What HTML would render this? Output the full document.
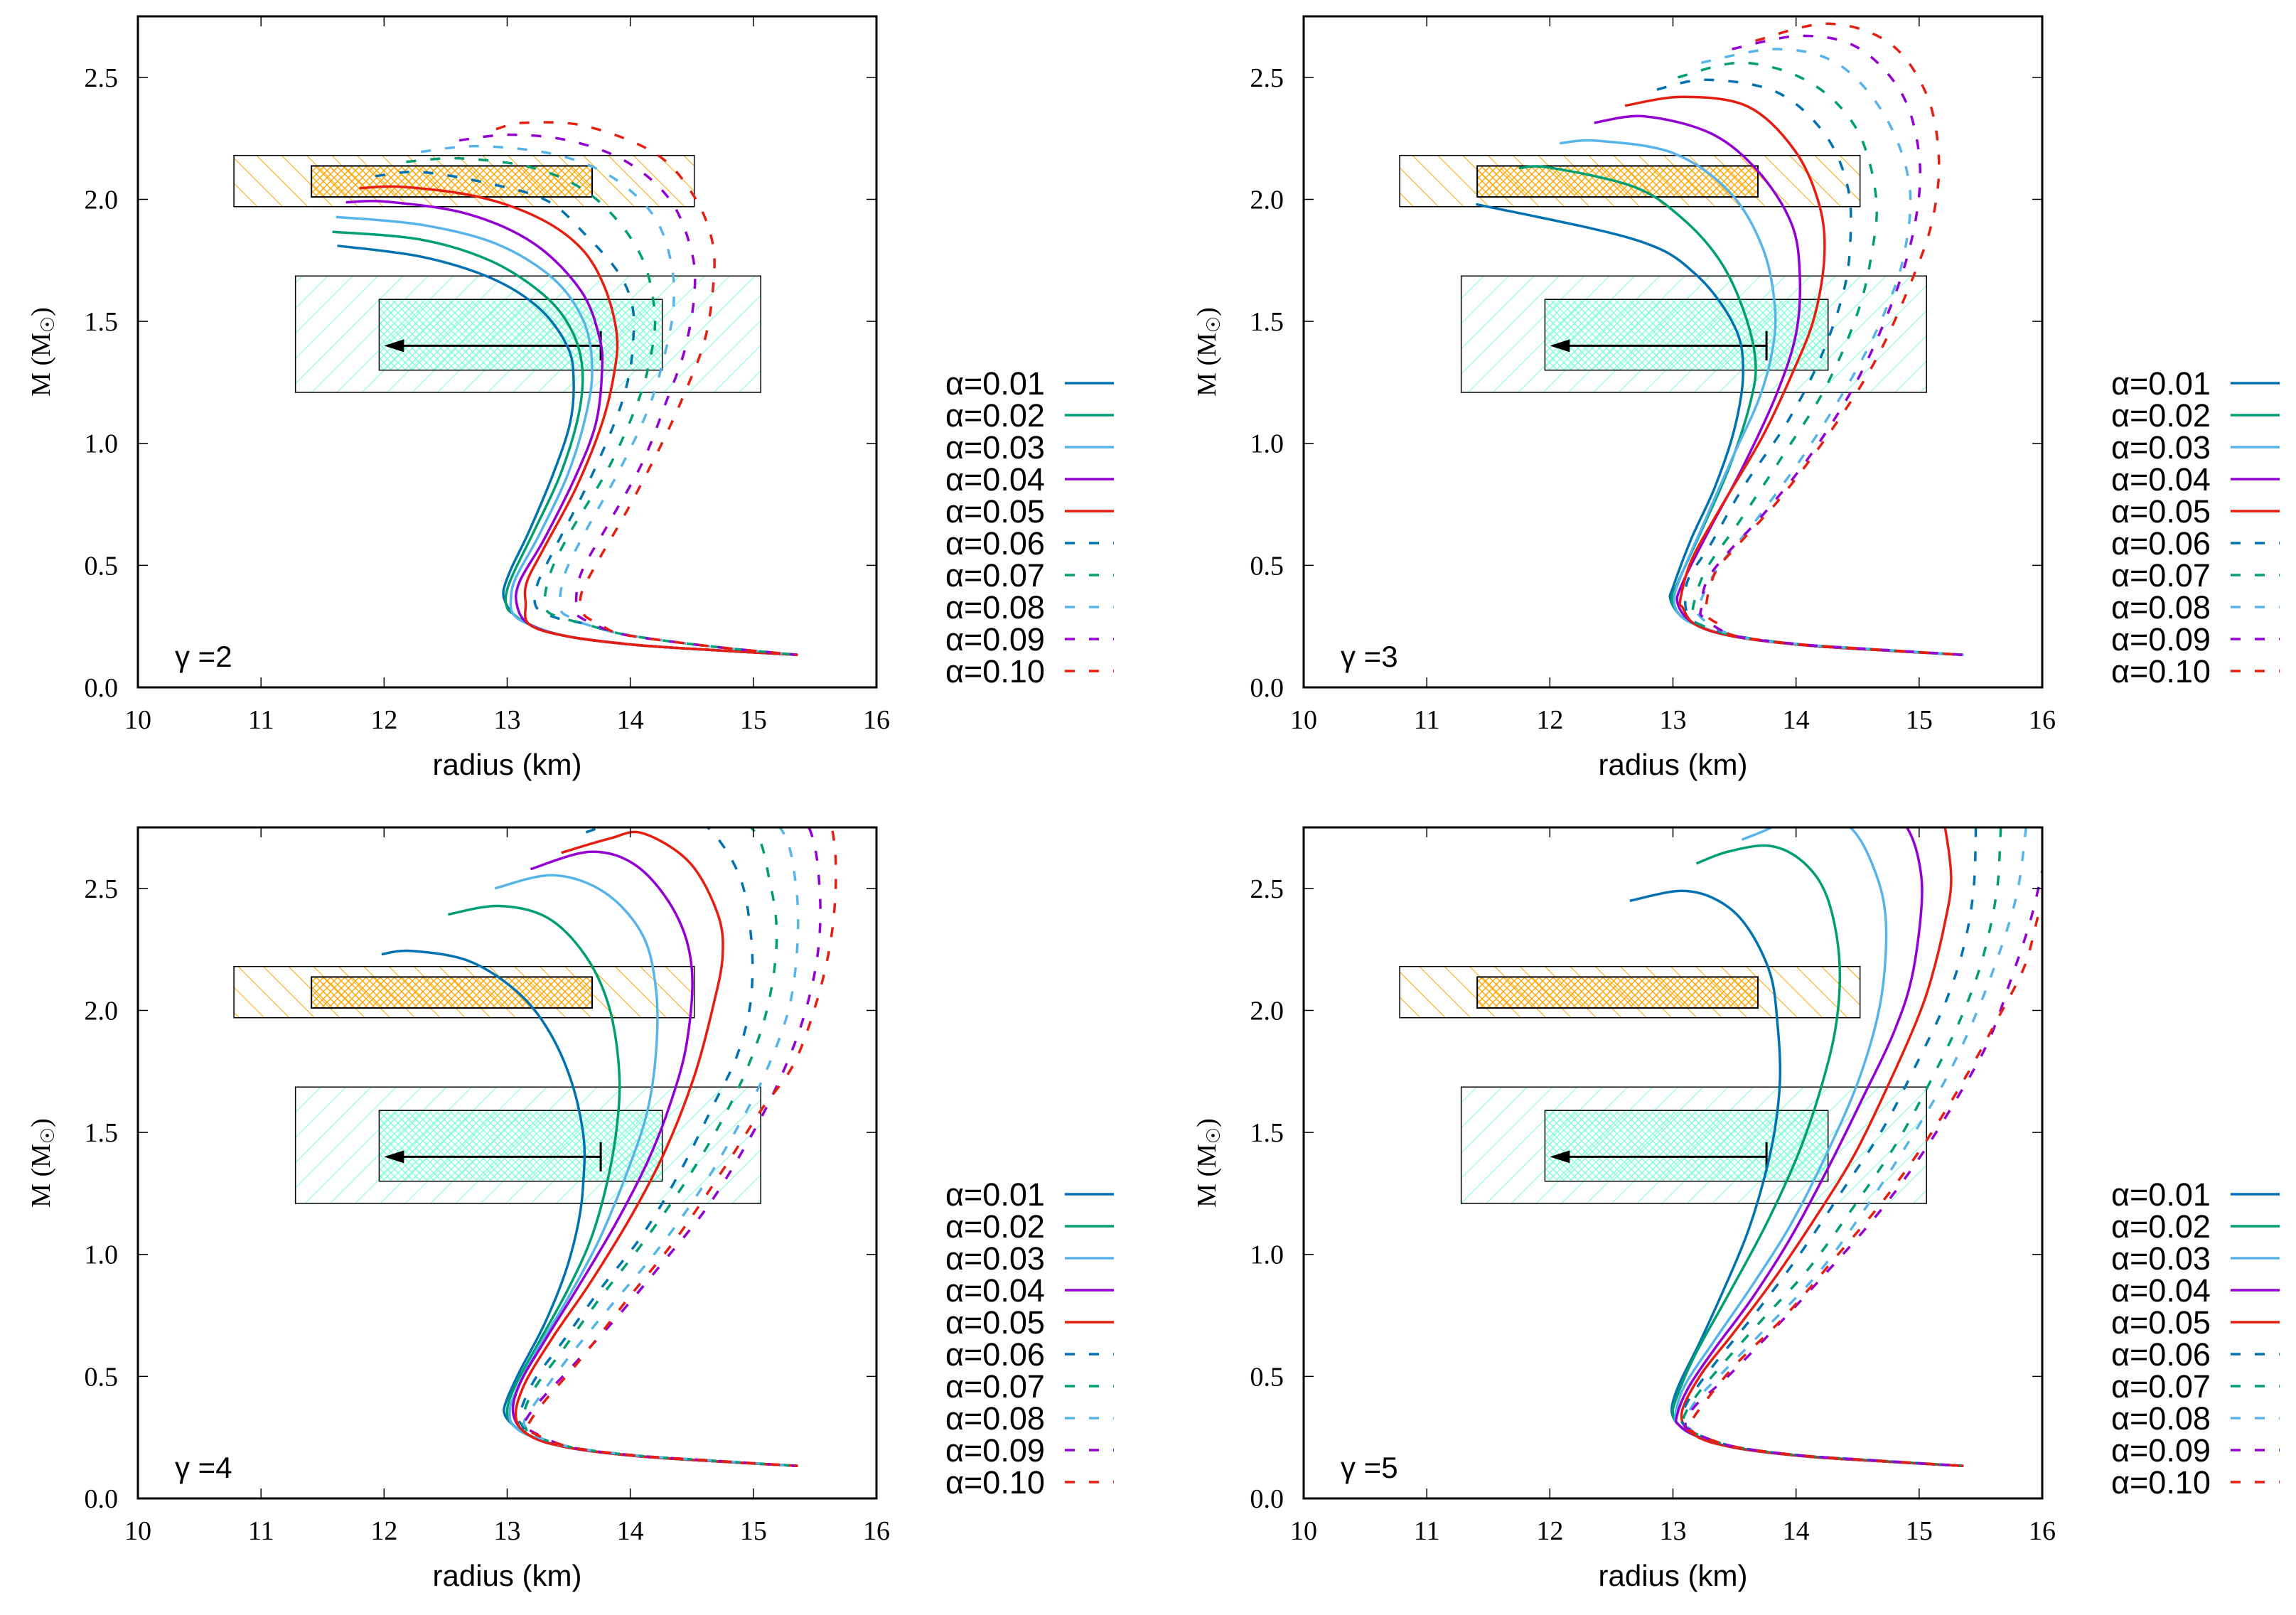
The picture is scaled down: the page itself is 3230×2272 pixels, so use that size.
<!DOCTYPE html>
<html><head><meta charset="utf-8"><style>
html,body{margin:0;padding:0;background:#fff;}
svg{display:block;}
.tk{font-family:"Liberation Serif",serif;font-size:38px;fill:#000;}
.sn{font-family:"Liberation Sans",sans-serif;fill:#000;}
</style></head><body>
<svg id="fig" width="3230" height="2272" viewBox="0 0 3230 2272" xmlns="http://www.w3.org/2000/svg">
<defs>
<pattern id="hatchO" patternUnits="userSpaceOnUse" width="25" height="25" patternTransform="rotate(-45)"><line x1="0" y1="0" x2="0" y2="25" stroke="#ffa500" stroke-width="2"/></pattern>
<pattern id="crossO" patternUnits="userSpaceOnUse" width="10" height="10"><path d="M0,0L10,10M10,0L0,10" stroke="#ffa500" stroke-width="1.4"/></pattern>
<pattern id="hatchG" patternUnits="userSpaceOnUse" width="25" height="25" patternTransform="rotate(45)"><line x1="0" y1="0" x2="0" y2="25" stroke="#7fffd4" stroke-width="2"/></pattern>
<pattern id="crossG" patternUnits="userSpaceOnUse" width="10" height="10"><path d="M0,0L10,10M10,0L0,10" stroke="#7fffd4" stroke-width="1.4"/></pattern>
</defs>
</svg>
<script>
const gammaLabels = [2, 3, 4, 5];
const alphaLabels = ["0.01","0.02","0.03","0.04","0.05","0.06","0.07","0.08","0.09","0.10"];
const xTicks = [10, 11, 12, 13, 14, 15, 16];
const yTicks = [0.0, 0.5, 1.0, 1.5, 2.0, 2.5];
const colors = ["#0072b2","#009e73","#56b4e9","#9400d3","#e51e10","#0072b2","#009e73","#56b4e9","#9400d3","#e51e10"];
const orangeOuter = [10.78, 14.52, 1.97, 2.18];
const orangeInner = [11.41, 13.69, 2.01, 2.137];
const greenOuter = [11.28, 15.06, 1.209, 1.686];
const greenInner = [11.96, 14.26, 1.30, 1.59];
const arrowData = [13.76, 12.0, 1.40, 1.34, 1.46];
const tailSolid = [[13.05,0.30],[13.18,0.258],[13.48,0.21],[14.02,0.175],[14.6,0.155],[15.36,0.133]];
const tailDashed2 = [[13.62,0.262],[13.9,0.222],[14.3,0.19],[14.8,0.16],[15.36,0.133]];
const tailDashed = [[13.2,0.262],[13.5,0.212],[14.02,0.177],[14.6,0.157],[15.36,0.133]];

const gamma2 = [
[[11.62,1.81],[12.30,1.765],[12.87,1.677],[13.26,1.554],[13.49,1.396],[13.54,1.256],[13.51,1.081],[13.37,0.87],[13.18,0.642],[13.03,0.484],[12.97,0.396],[12.99,0.344]],
[[11.58,1.867],[12.30,1.835],[12.87,1.747],[13.3,1.607],[13.52,1.467],[13.61,1.309],[13.58,1.116],[13.43,0.87],[13.22,0.642],[13.05,0.467],[12.99,0.379],[13.0,0.326]],
[[11.61,1.928],[12.3,1.896],[12.91,1.818],[13.37,1.677],[13.62,1.502],[13.69,1.309],[13.64,1.116],[13.49,0.87],[13.26,0.625],[13.07,0.449],[13.03,0.361]],
[[11.69,1.988],[12.03,1.99],[12.68,1.94],[13.22,1.818],[13.6,1.625],[13.75,1.432],[13.77,1.291],[13.72,1.081],[13.56,0.87],[13.3,0.607],[13.1,0.432],[13.08,0.335]],
[[11.8,2.046],[12.15,2.051],[12.76,2.011],[13.26,1.923],[13.6,1.8],[13.79,1.642],[13.89,1.449],[13.87,1.291],[13.77,1.081],[13.56,0.818],[13.3,0.572],[13.16,0.432],[13.15,0.344]],
[[11.93,2.095],[12.3,2.112],[12.87,2.063],[13.33,1.993],[13.64,1.853],[13.91,1.695],[14.02,1.554],[14.02,1.396],[13.98,1.256],[13.87,1.081],[13.64,0.818],[13.37,0.554],[13.24,0.414],[13.24,0.326],[13.4,0.285]],
[[12.18,2.154],[12.61,2.168],[13.18,2.133],[13.6,2.046],[13.91,1.905],[14.12,1.73],[14.2,1.519],[14.16,1.344],[14.06,1.168],[13.83,0.905],[13.52,0.642],[13.35,0.467],[13.31,0.326],[13.45,0.285]],
[[12.3,2.195],[12.76,2.218],[13.37,2.186],[13.83,2.098],[14.18,1.94],[14.33,1.747],[14.35,1.554],[14.27,1.344],[14.14,1.133],[13.91,0.888],[13.64,0.642],[13.47,0.467],[13.43,0.326],[13.52,0.285]],
[[12.61,2.242],[13.03,2.265],[13.52,2.239],[13.98,2.151],[14.33,1.993],[14.5,1.782],[14.52,1.607],[14.44,1.379],[14.29,1.168],[14.1,0.923],[13.83,0.677],[13.6,0.467],[13.56,0.326],[13.6,0.285]],
[[12.91,2.288],[13.14,2.314],[13.64,2.3],[14.21,2.186],[14.52,2.011],[14.67,1.818],[14.67,1.625],[14.6,1.414],[14.44,1.204],[14.25,0.993],[13.98,0.73],[13.72,0.502],[13.6,0.379],[13.62,0.3],[13.75,0.26]]
];
const gamma3 = [
[[11.40,1.98],[12.69,1.835],[13.18,1.695],[13.5,1.48],[13.57,1.29],[13.50,1.06],[13.34,0.82],[13.15,0.61],[13.0,0.41],[12.98,0.36]],
[[11.75,2.128],[12.0,2.13],[12.69,2.05],[13.08,1.92],[13.38,1.75],[13.57,1.55],[13.67,1.34],[13.63,1.17],[13.46,0.905],[13.23,0.64],[13.04,0.43],[12.99,0.36]],
[[12.08,2.23],[12.39,2.24],[13.0,2.19],[13.46,2.03],[13.73,1.8],[13.83,1.55],[13.8,1.36],[13.69,1.17],[13.5,0.96],[13.27,0.695],[13.06,0.45],[13.01,0.36]],
[[12.36,2.314],[12.77,2.34],[13.31,2.27],[13.69,2.116],[13.96,1.905],[14.03,1.695],[14.0,1.45],[13.84,1.2],[13.57,0.905],[13.31,0.66],[13.08,0.43],[13.04,0.34]],
[[12.61,2.384],[13.08,2.42],[13.61,2.38],[13.99,2.2],[14.19,1.975],[14.23,1.765],[14.15,1.52],[13.99,1.31],[13.73,1.03],[13.38,0.73],[13.15,0.52],[13.06,0.36],[13.08,0.326]],
[[12.87,2.45],[13.27,2.49],[13.84,2.44],[14.23,2.27],[14.42,2.05],[14.44,1.82],[14.38,1.61],[14.19,1.34],[13.92,1.08],[13.57,0.82],[13.31,0.59],[13.13,0.45],[13.1,0.36],[13.12,0.3]],
[[13.04,2.5],[13.57,2.56],[14.11,2.48],[14.49,2.29],[14.65,2.01],[14.61,1.765],[14.49,1.52],[14.23,1.22],[13.88,0.94],[13.54,0.68],[13.27,0.484],[13.17,0.344],[13.17,0.29]],
[[13.23,2.56],[13.84,2.616],[14.34,2.555],[14.72,2.344],[14.92,2.063],[14.88,1.78],[14.72,1.537],[14.46,1.274],[14.07,0.958],[13.69,0.695],[13.38,0.5],[13.23,0.36],[13.22,0.29]],
[[13.48,2.616],[14.03,2.67],[14.49,2.625],[14.84,2.45],[14.99,2.22],[14.99,1.975],[14.84,1.66],[14.53,1.29],[14.15,0.975],[13.77,0.73],[13.42,0.537],[13.27,0.43],[13.23,0.326],[13.25,0.285]],
[[13.67,2.65],[14.26,2.72],[14.76,2.64],[15.06,2.43],[15.16,2.17],[15.11,1.92],[14.95,1.68],[14.65,1.344],[14.3,1.063],[13.88,0.78],[13.54,0.59],[13.34,0.467],[13.27,0.31],[13.38,0.256]]
];
const gamma4 = [
[[11.98,2.23],[12.22,2.244],[12.68,2.204],[13.07,2.081],[13.33,1.923],[13.52,1.712],[13.62,1.484],[13.62,1.309],[13.58,1.133],[13.47,0.923],[13.3,0.712],[13.1,0.519],[12.99,0.396],[12.98,0.344]],
[[12.52,2.393],[12.93,2.428],[13.33,2.379],[13.64,2.221],[13.83,2.011],[13.91,1.747],[13.89,1.519],[13.81,1.291],[13.68,1.063],[13.49,0.853],[13.26,0.642],[13.07,0.467],[13.0,0.361]],
[[12.9,2.5],[13.37,2.554],[13.79,2.484],[14.1,2.309],[14.21,2.081],[14.21,1.835],[14.14,1.589],[13.98,1.344],[13.75,1.063],[13.49,0.818],[13.22,0.589],[13.05,0.414],[13.02,0.344]],
[[13.19,2.579],[13.68,2.65],[14.06,2.589],[14.37,2.396],[14.5,2.168],[14.46,1.87],[14.33,1.625],[14.14,1.379],[13.87,1.116],[13.56,0.853],[13.3,0.642],[13.1,0.467],[13.05,0.344]],
[[13.44,2.646],[13.83,2.704],[14.1,2.726],[14.48,2.607],[14.71,2.396],[14.75,2.221],[14.67,2.011],[14.52,1.73],[14.29,1.432],[14.02,1.168],[13.68,0.888],[13.37,0.66],[13.14,0.467],[13.07,0.335]],
[[13.64,2.73],[14.1,2.8],[14.55,2.78],[14.87,2.572],[14.98,2.309],[14.98,2.046],[14.87,1.818],[14.67,1.607],[14.41,1.344],[14.1,1.081],[13.75,0.853],[13.45,0.642],[13.22,0.484],[13.1,0.344],[13.12,0.3]],
[[14.6,2.85],[15.0,2.739],[15.13,2.537],[15.19,2.309],[15.13,2.046],[14.98,1.8],[14.75,1.554],[14.44,1.291],[14.1,1.046],[13.75,0.818],[13.45,0.607],[13.22,0.449],[13.12,0.326],[13.15,0.29]],
[[14.9,2.88],[15.23,2.739],[15.34,2.537],[15.36,2.291],[15.29,2.011],[15.1,1.747],[14.87,1.519],[14.56,1.256],[14.21,1.011],[13.83,0.782],[13.49,0.572],[13.26,0.414],[13.14,0.318],[13.17,0.285]],
[[15.2,2.9],[15.46,2.739],[15.54,2.484],[15.52,2.221],[15.4,1.958],[15.21,1.712],[14.98,1.484],[14.64,1.204],[14.25,0.958],[13.87,0.73],[13.52,0.537],[13.26,0.396],[13.14,0.309],[13.18,0.28]],
[[15.5,2.92],[15.64,2.739],[15.67,2.537],[15.63,2.291],[15.52,2.046],[15.33,1.782],[15.06,1.589],[14.75,1.344],[14.37,1.063],[13.98,0.818],[13.6,0.572],[13.3,0.396],[13.16,0.291],[13.2,0.27]]
];
const gamma5 = [
[[12.65,2.449],[13.07,2.49],[13.37,2.449],[13.6,2.344],[13.79,2.151],[13.85,1.94],[13.87,1.73],[13.83,1.519],[13.74,1.309],[13.6,1.081],[13.41,0.853],[13.22,0.642],[13.05,0.467],[12.99,0.361]],
[[13.19,2.602],[13.45,2.651],[13.79,2.674],[14.06,2.607],[14.25,2.467],[14.35,2.221],[14.33,1.958],[14.21,1.695],[14.02,1.414],[13.75,1.116],[13.45,0.835],[13.18,0.589],[13.03,0.414],[13.0,0.344]],
[[13.56,2.7],[13.77,2.742],[14.1,2.82],[14.44,2.75],[14.64,2.572],[14.73,2.361],[14.69,2.046],[14.52,1.73],[14.25,1.414],[13.95,1.116],[13.64,0.87],[13.33,0.642],[13.1,0.467],[13.02,0.344]],
[[14.7,2.85],[14.9,2.75],[15.0,2.607],[15.02,2.432],[14.94,2.133],[14.79,1.905],[14.56,1.66],[14.25,1.344],[13.95,1.063],[13.64,0.818],[13.33,0.607],[13.12,0.449],[13.03,0.335]],
[[15.15,2.85],[15.21,2.75],[15.26,2.537],[15.21,2.361],[15.1,2.133],[14.98,1.958],[14.75,1.695],[14.48,1.414],[14.18,1.168],[13.83,0.905],[13.49,0.677],[13.22,0.502],[13.07,0.344]],
[[15.45,2.85],[15.46,2.73],[15.44,2.484],[15.36,2.256],[15.21,2.028],[14.98,1.782],[14.71,1.519],[14.37,1.256],[14.02,0.993],[13.68,0.765],[13.37,0.572],[13.14,0.414],[13.07,0.326],[13.12,0.29]],
[[15.67,2.85],[15.66,2.712],[15.63,2.484],[15.52,2.221],[15.36,1.993],[15.13,1.747],[14.83,1.467],[14.48,1.204],[14.1,0.94],[13.72,0.73],[13.41,0.554],[13.18,0.414],[13.08,0.318],[13.14,0.285]],
[[15.88,2.85],[15.86,2.712],[15.79,2.467],[15.63,2.204],[15.44,1.958],[15.21,1.712],[14.9,1.449],[14.56,1.186],[14.18,0.923],[13.75,0.695],[13.41,0.519],[13.18,0.396],[13.1,0.309],[13.14,0.285]],
[[16.05,2.7],[16.0,2.572],[15.9,2.361],[15.75,2.133],[15.56,1.87],[15.29,1.625],[14.98,1.379],[14.64,1.151],[14.21,0.905],[13.79,0.677],[13.45,0.502],[13.18,0.379],[13.1,0.3],[13.15,0.28]],
[[16.08,2.3],[16.0,2.432],[15.86,2.186],[15.63,1.958],[15.36,1.712],[15.06,1.467],[14.71,1.221],[14.33,0.993],[13.91,0.747],[13.52,0.554],[13.26,0.396],[13.12,0.291],[13.16,0.275]]
];
const panelData = [gamma2, gamma3, gamma4, gamma5];
const dashedTails = [tailDashed2, tailDashed, tailDashed, tailDashed];

const NS = "http://www.w3.org/2000/svg";
const svg = document.getElementById('fig');
function mk(tag, attrs, parent) {
  const e = document.createElementNS(NS, tag);
  for (const k in attrs) e.setAttribute(k, attrs[k]);
  (parent || svg).appendChild(e);
  return e;
}
const PL = 194, PT = 23, PW = 1039, PH = 944;
const offsets = [[0,0],[1640,0],[0,1141],[1640,1141]];

function smoothPath(pts) {
  let d = "M" + pts[0][0].toFixed(1) + "," + pts[0][1].toFixed(1);
  for (let i = 0; i < pts.length - 1; i++) {
    const p0 = pts[Math.max(i-1,0)], p1 = pts[i], p2 = pts[i+1], p3 = pts[Math.min(i+2,pts.length-1)];
    const c1x = p1[0] + (p2[0]-p0[0])/6, c1y = p1[1] + (p2[1]-p0[1])/6;
    const c2x = p2[0] - (p3[0]-p1[0])/6, c2y = p2[1] - (p3[1]-p1[1])/6;
    d += "C" + c1x.toFixed(1) + "," + c1y.toFixed(1) + " " + c2x.toFixed(1) + "," + c2y.toFixed(1) + " " + p2[0].toFixed(1) + "," + p2[1].toFixed(1);
  }
  return d;
}

panelData.forEach((series, pi) => {
  const ox = offsets[pi][0], oy = offsets[pi][1];
  const L = PL + ox, T = PT + oy;
  const xs = r => L + (r - 10) / 6 * PW;
  const ys = m => T + PH - m / 2.75 * PH;
  const g = mk('g', {});
  
  
  const cp = mk('clipPath', {id: 'clip' + pi}, g);
  mk('rect', {x: L, y: T, width: PW, height: PH}, cp);

  function box(b, fill, name, sw) {
    const r = mk('rect', {x: xs(b[0]), y: ys(b[3]), width: xs(b[1]) - xs(b[0]), height: ys(b[2]) - ys(b[3]), fill: fill, stroke: '#000', 'stroke-width': sw}, g);
    
    
  }
  box(orangeOuter, 'url(#hatchO)', 'mass-constraint-outer', 1.5);
  box(orangeInner, 'url(#crossO)', 'mass-constraint-inner', 2);
  box(greenOuter, 'url(#hatchG)', 'radius-constraint-outer', 1.5);
  box(greenInner, 'url(#crossG)', 'radius-constraint-inner', 1.5);

  const ag = mk('g', {}, g);
  
  
  mk('line', {x1: xs(arrowData[0]), y1: ys(arrowData[2]), x2: xs(arrowData[1]) + 20, y2: ys(arrowData[2]), stroke: '#000', 'stroke-width': 3}, ag);
  mk('line', {x1: xs(arrowData[0]), y1: ys(arrowData[3]), x2: xs(arrowData[0]), y2: ys(arrowData[4]), stroke: '#000', 'stroke-width': 3}, ag);
  const tx = xs(arrowData[1]), ty = ys(arrowData[2]);
  mk('polygon', {points: tx + ',' + ty + ' ' + (tx+28) + ',' + (ty-9) + ' ' + (tx+28) + ',' + (ty+9), fill: '#000'}, ag);

  const cg = mk('g', {'clip-path': 'url(#clip' + pi + ')'}, g);
  series.forEach((pts, si) => {
    const dashed = si >= 5;
    const lastR = pts[pts.length - 1][0];
    const tail = (dashed ? dashedTails[pi] : tailSolid).filter(p => p[0] > lastR + 0.02);
    const all = pts.concat(tail);
    const px = all.map(p => [xs(p[0]), ys(p[1])]);
    const attrs = {d: smoothPath(px), fill: 'none', stroke: colors[si], 'stroke-width': 3.5};
    if (dashed) attrs['stroke-dasharray'] = '14 20';
    const p = mk('path', attrs, cg);
    
    
  });

  const fr = mk('rect', {x: L, y: T, width: PW, height: PH, fill: 'none', stroke: '#000', 'stroke-width': 3}, g);
  
  

  xTicks.forEach(v => {
    const x = xs(v);
    mk('line', {x1: x, y1: T + PH, x2: x, y2: T + PH - 14, stroke: '#000', 'stroke-width': 1.5}, g);
    mk('line', {x1: x, y1: T, x2: x, y2: T + 14, stroke: '#000', 'stroke-width': 1.5}, g);
    const t = mk('text', {x: x, y: T + PH + 58, 'text-anchor': 'middle', class: 'tk'}, g);
    t.textContent = String(v);
    
    
  });
  yTicks.forEach(v => {
    const y = ys(v);
    mk('line', {x1: L, y1: y, x2: L + 14, y2: y, stroke: '#000', 'stroke-width': 1.5}, g);
    mk('line', {x1: L + PW, y1: y, x2: L + PW - 14, y2: y, stroke: '#000', 'stroke-width': 1.5}, g);
    const t = mk('text', {x: L - 28, y: y + 13, 'text-anchor': 'end', class: 'tk'}, g);
    t.textContent = v.toFixed(1);
    
    
  });

  const xt = mk('text', {x: L + PW/2, y: T + PH + 123, 'text-anchor': 'middle', class: 'sn', 'font-size': 42}, g);
  xt.textContent = 'radius (km)';
  
  

  const yt = mk('text', {x: 0, y: 0, 'text-anchor': 'middle', class: 'tk', 'font-size': 40, transform: 'translate(' + (ox + 70) + ',' + (T + 472) + ') rotate(-90)'}, g);
  yt.innerHTML = 'M (M<tspan font-size="26" dy="6">☉</tspan><tspan dy="-6">)</tspan>';
  
  

  const gl = mk('text', {x: L + 52, y: T + 915, class: 'sn', 'font-size': 42}, g);
  gl.textContent = 'γ =' + gammaLabels[pi];
  
  

  const lg = mk('g', {}, g);
  
  
  alphaLabels.forEach((a, k) => {
    const yc = 539 + oy + 45 * k;
    const t = mk('text', {x: 1330 + ox, y: yc + 16, class: 'sn', 'font-size': 45}, lg);
    t.textContent = 'α=' + a;
    
    
    const la = {x1: 1498 + ox, y1: yc, x2: 1567 + ox, y2: yc, stroke: colors[k], 'stroke-width': 3.5};
    if (k >= 5) la['stroke-dasharray'] = '14 20';
    const ln = mk('line', la, lg);
    
    
  });
});
</script>
</body></html>
